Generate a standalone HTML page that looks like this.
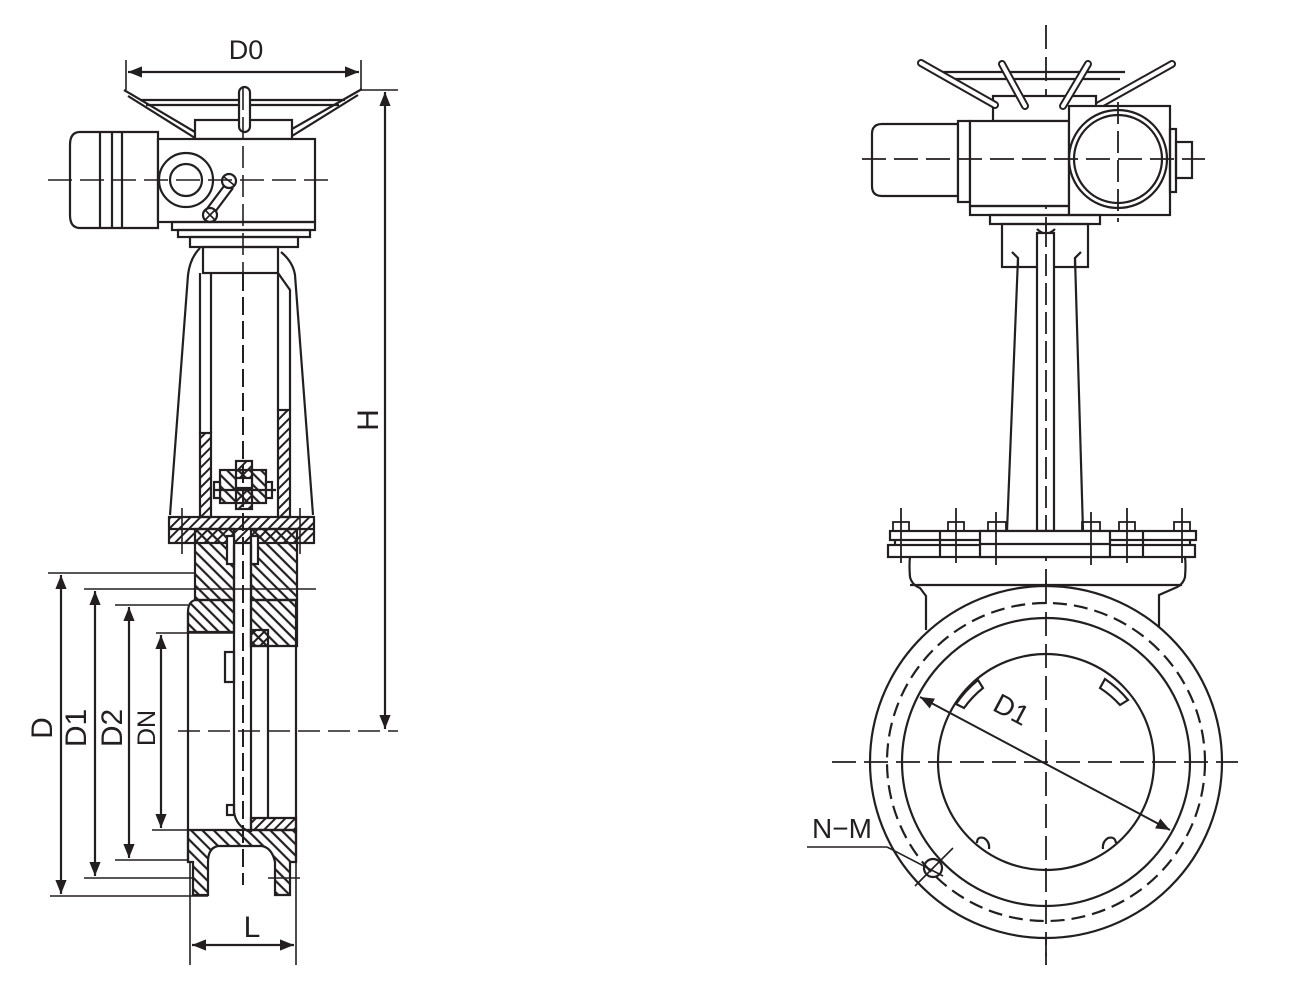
<!DOCTYPE html>
<html><head><meta charset="utf-8"><style>
html,body{margin:0;padding:0;background:#fff;}
svg{display:block;}
text{font-family:"Liberation Sans",Arial,sans-serif;fill:#231f20;}
</style></head><body>
<svg width="1308" height="998" viewBox="0 0 1308 998" xmlns="http://www.w3.org/2000/svg">
<defs>
<pattern id="hb" patternUnits="userSpaceOnUse" width="8" height="8" patternTransform="rotate(-45)">
<line x1="4" y1="0" x2="4" y2="8" stroke="#231f20" stroke-width="2.2"/></pattern>
<pattern id="hf" patternUnits="userSpaceOnUse" width="7" height="7" patternTransform="rotate(45)">
<line x1="3.5" y1="0" x2="3.5" y2="7" stroke="#231f20" stroke-width="2"/></pattern>
<marker id="ar" viewBox="0 0 10 10" refX="10" refY="5" markerWidth="14" markerHeight="14" markerUnits="userSpaceOnUse" orient="auto-start-reverse">
<path d="M0,1 L10,5 L0,9 z" fill="#231f20"/></marker>
</defs>
<g fill="none" stroke="#231f20" stroke-width="2.2">
<!-- ===== LEFT VIEW ===== -->
<line x1="126" y1="60" x2="126" y2="90" stroke-width="1.6"/>
<line x1="361" y1="60" x2="361" y2="90" stroke-width="1.6"/>
<line x1="128" y1="72" x2="359" y2="72" marker-start="url(#ar)" marker-end="url(#ar)"/>
<path d="M124,90 L195,132 M128,96 L195,138"/>
<path d="M362,89 L292,129 M358,95 L292,136"/>
<line x1="140" y1="100" x2="345" y2="100"/>
<line x1="146" y1="105" x2="339" y2="105"/>
<rect x="195" y="120" width="97" height="19" fill="#fff"/>
<rect x="239" y="87" width="11" height="45" rx="5.5" fill="#fff"/>
<path d="M158,132 H80 Q70,132 70,145 V215 Q70,228 80,228 H158 Z" fill="#fff"/>
<line x1="100" y1="132" x2="100" y2="228"/>
<line x1="112" y1="132" x2="112" y2="228"/>
<line x1="122" y1="132" x2="122" y2="228"/>
<rect x="158" y="139" width="157" height="83" fill="#fff"/>
<circle cx="186" cy="180" r="27"/>
<circle cx="186" cy="180" r="16"/>
<circle cx="229" cy="181" r="7"/>
<circle cx="210" cy="215" r="7"/>
<path d="M224,186 L206,210 M233,188 L215,212"/>
<path d="M205,210 L215,220 M215,210 L205,220 M224,177 L234,185" stroke-width="1.6"/>
<rect x="172" y="222" width="143" height="8"/>
<rect x="178" y="230" width="132" height="7"/>
<rect x="190" y="237" width="108" height="10"/>
<rect x="203" y="247" width="75" height="26"/>
<path d="M200,248 Q190,258 188,275 L170,515"/>
<path d="M281,252 Q293,262 295,275 L313,515"/>
<line x1="200" y1="273" x2="200" y2="433"/>
<line x1="211" y1="273" x2="211" y2="433"/>
<path d="M278,273 L290,290 L290,410"/>
<line x1="278" y1="273" x2="278" y2="410"/>
<rect x="200" y="433" width="11" height="84" fill="url(#hf)"/>
<rect x="278" y="410" width="12" height="107" fill="url(#hf)"/>
<rect x="220" y="470" width="46" height="33" fill="url(#hb)"/>
<rect x="214" y="482" width="6" height="16" fill="#fff"/>
<rect x="266" y="482" width="6" height="16" fill="#fff"/>
<rect x="236" y="461" width="16" height="48" fill="url(#hf)"/>
<rect x="236" y="478" width="16" height="10" fill="#fff"/>
<line x1="214" y1="490" x2="276" y2="490"/>
<rect x="169" y="517" width="145" height="26" fill="url(#hf)"/>
<line x1="169" y1="529" x2="314" y2="529"/>
<line x1="182" y1="508" x2="182" y2="554" stroke-width="1.6"/>
<line x1="300" y1="508" x2="300" y2="554" stroke-width="1.6"/>
<path d="M195,529 H234 V600 H195 Z" fill="url(#hb)"/>
<path d="M251,529 H297 V600 H251 Z" fill="url(#hb)"/>
<rect x="227" y="536" width="7" height="28" fill="#fff"/>
<rect x="251" y="536" width="7" height="28" fill="#fff"/>
<path d="M195,600 Q188,602 188,612 V632 H234 V600 Z" fill="url(#hb)"/>
<path d="M251,600 H297 V646 H251 Z" fill="url(#hb)"/>
<rect x="251" y="630" width="17" height="16" fill="url(#hf)"/>
<line x1="188" y1="612" x2="188" y2="862"/>
<line x1="296" y1="600" x2="296" y2="862"/>
<line x1="268" y1="646" x2="268" y2="818"/>
<path d="M234,545 V812 Q236,826 250,832"/>
<line x1="251" y1="545" x2="251" y2="832"/>
<line x1="243" y1="273" x2="243" y2="885" stroke-width="2" stroke-dasharray="18,6"/>
<rect x="225" y="652" width="9" height="30"/>
<rect x="227" y="805" width="7" height="10"/>
<path d="M251,818 H296 V830 H251 Z" fill="url(#hf)"/>
<path d="M188,830 H296 V862 H290 V895 H275 V862 Q272,848 262,846 H218 Q208,848 208,862 V895 H193 V862 H188 Z" fill="url(#hb)"/>
<line x1="178" y1="731" x2="398" y2="731" stroke-width="1.6" stroke-dasharray="22,8"/>
<line x1="48" y1="180" x2="335" y2="180" stroke-width="1.6" stroke-dasharray="24,8"/>
<line x1="243" y1="88" x2="243" y2="273" stroke-width="1.6" stroke-dasharray="22,7"/>
<line x1="361" y1="90" x2="398" y2="90" stroke-width="1.6"/>
<line x1="48" y1="573" x2="195" y2="573" stroke-width="1.6"/>
<line x1="84" y1="589" x2="316" y2="589" stroke-width="1.6"/>
<line x1="115" y1="605" x2="188" y2="605" stroke-width="1.6"/>
<line x1="156" y1="633" x2="234" y2="633" stroke-width="1.6"/>
<line x1="152" y1="830" x2="188" y2="830" stroke-width="1.6"/>
<line x1="115" y1="860" x2="188" y2="860" stroke-width="1.6"/>
<line x1="84" y1="878" x2="193" y2="878" stroke-width="1.6"/>
<line x1="50" y1="896" x2="208" y2="896" stroke-width="1.6"/>
<line x1="190" y1="862" x2="190" y2="965" stroke-width="1.6"/>
<line x1="296" y1="862" x2="296" y2="965" stroke-width="1.6"/>
<line x1="268" y1="878" x2="300" y2="878" stroke-width="1.6"/>
<line x1="385" y1="92" x2="385" y2="729" marker-start="url(#ar)" marker-end="url(#ar)"/>
<line x1="61" y1="575" x2="61" y2="894" marker-start="url(#ar)" marker-end="url(#ar)"/>
<line x1="95" y1="591" x2="95" y2="876" marker-start="url(#ar)" marker-end="url(#ar)"/>
<line x1="129" y1="607" x2="129" y2="858" marker-start="url(#ar)" marker-end="url(#ar)"/>
<line x1="161" y1="635" x2="161" y2="828" marker-start="url(#ar)" marker-end="url(#ar)"/>
<line x1="192" y1="945" x2="294" y2="945" marker-start="url(#ar)" marker-end="url(#ar)"/>

<!-- ===== RIGHT VIEW ===== -->
<line x1="1046" y1="25" x2="1046" y2="965" stroke-width="1.8" stroke-dasharray="24,8"/>
<line x1="943" y1="72" x2="1125" y2="72"/>
<line x1="950" y1="79" x2="1120" y2="79"/>
<rect x="993" y="96" width="103" height="25" fill="#fff"/>
<path d="M921,63 L995,105" stroke-width="8" stroke-linecap="round"/>
<path d="M921,63 L995,105" stroke="#fff" stroke-width="4" stroke-linecap="round"/>
<path d="M1002,64 L1025,106" stroke-width="8" stroke-linecap="round"/>
<path d="M1002,64 L1025,106" stroke="#fff" stroke-width="4" stroke-linecap="round"/>
<path d="M1088,64 L1063,106" stroke-width="8" stroke-linecap="round"/>
<path d="M1088,64 L1063,106" stroke="#fff" stroke-width="4" stroke-linecap="round"/>
<path d="M1172,64 L1099,105" stroke-width="8" stroke-linecap="round"/>
<path d="M1172,64 L1099,105" stroke="#fff" stroke-width="4" stroke-linecap="round"/>
<path d="M958,124 H882 Q872,124 872,134 V186 Q872,196 882,196 H958 Z" fill="#fff"/>
<rect x="958" y="121" width="12" height="81" fill="#fff"/>
<rect x="970" y="121" width="99" height="85" fill="#fff"/>
<rect x="970" y="206" width="99" height="9"/>
<rect x="1069" y="106" width="101" height="109" fill="#fff"/>
<circle cx="1118" cy="159" r="49"/>
<circle cx="1118" cy="159" r="44"/>
<rect x="1170" y="129" width="6" height="63"/>
<rect x="1176" y="142" width="16" height="36"/>
<line x1="862" y1="159" x2="1205" y2="159" stroke-width="1.8" stroke-dasharray="24,8"/>
<line x1="1118" y1="102" x2="1118" y2="222" stroke-width="1.8" stroke-dasharray="22,7"/>
<rect x="990" y="215" width="110" height="9"/>
<rect x="1002" y="224" width="86" height="43"/>
<path d="M1012,252 L1018,258 L1018,267 M1081,252 L1075,258 L1075,267"/>
<path d="M1018,258 L1007,531 M1075,258 L1083,531"/>
<path d="M1037,229 Q1046,238 1055,229"/>
<rect x="1037" y="233" width="17" height="298" fill="#fff"/>
<line x1="1046" y1="225" x2="1046" y2="531" stroke-width="1.8" stroke-dasharray="22,7"/>
<rect x="890" y="531" width="306" height="9" fill="#fff"/>
<rect x="888" y="545" width="307" height="12" fill="#fff"/>
<line x1="895" y1="540" x2="895" y2="545"/><line x1="1190" y1="540" x2="1190" y2="545"/>
<rect x="980" y="531" width="130" height="26" fill="#fff"/>
<line x1="980" y1="544" x2="1110" y2="544"/>
<line x1="940" y1="531" x2="940" y2="557"/>
<line x1="1143" y1="531" x2="1143" y2="557"/>
<g stroke-width="1.8">
<rect x="893" y="522" width="16" height="9"/><line x1="901" y1="508" x2="901" y2="563"/>
<rect x="948" y="522" width="16" height="9"/><line x1="956" y1="508" x2="956" y2="563"/>
<rect x="988" y="522" width="18" height="9"/><line x1="996" y1="512" x2="996" y2="565"/>
<rect x="1082" y="522" width="18" height="9"/><line x1="1091" y1="512" x2="1091" y2="565"/>
<rect x="1119" y="522" width="16" height="9"/><line x1="1127" y1="508" x2="1127" y2="563"/>
<rect x="1174" y="522" width="16" height="9"/><line x1="1182" y1="508" x2="1182" y2="563"/>
</g>
<path d="M910,557 Q909,565 910,577 Q912,585 920,588 L926,596 L926,630"/>
<path d="M1185,557 Q1186,565 1185,577 Q1183,585 1175,588 L1159,595 L1159,630"/>
<line x1="910" y1="585" x2="1182" y2="585"/>
<circle cx="1046" cy="762" r="176" fill="#fff"/>
<circle cx="1046" cy="762" r="159" stroke-dasharray="14,7"/>
<circle cx="1046" cy="762" r="144"/>
<circle cx="1046" cy="762" r="108"/>
<path d="M956,704 L964,708 A100,100 0 0 1 983,688 L978,680 A108,108 0 0 0 956,704 Z" fill="#fff"/>
<path d="M1100,688 A100,100 0 0 1 1120,705 L1128,700 A108,108 0 0 0 1105,679 Z" fill="#fff"/>
<path d="M977,843 Q977,836 984,838 Q990,842 989,849"/>
<path d="M1103,849 Q1102,842 1108,838 Q1115,836 1116,843"/>
<line x1="832" y1="762" x2="1238" y2="762" stroke-width="1.8" stroke-dasharray="24,8"/>
<line x1="1046" y1="580" x2="1046" y2="965" stroke-width="1.8" stroke-dasharray="24,8"/>
<line x1="920" y1="697" x2="1170" y2="830" stroke-width="2" marker-start="url(#ar)" marker-end="url(#ar)"/>
<circle cx="933" cy="868" r="9"/>
<line x1="915" y1="886" x2="953" y2="848" stroke-width="1.6"/>
<line x1="807" y1="847" x2="887" y2="847" stroke-width="1.6"/>
<line x1="887" y1="847" x2="943" y2="876" stroke-width="1.6"/>
</g>
<text x="246" y="59" font-size="27" text-anchor="middle">D0</text>
<text x="252" y="937" font-size="30" text-anchor="middle">L</text>
<text transform="translate(378,420) rotate(-90)" font-size="30" text-anchor="middle">H</text>
<text transform="translate(52,728) rotate(-90)" font-size="30" text-anchor="middle">D</text>
<text transform="translate(86,728) rotate(-90)" font-size="30" text-anchor="middle">D1</text>
<text transform="translate(122,728) rotate(-90)" font-size="30" text-anchor="middle">D2</text>
<text transform="translate(155,728) rotate(-90)" font-size="25" text-anchor="middle">DN</text>
<text transform="translate(1007,718) rotate(28)" font-size="28" text-anchor="middle">D1</text>
<text x="842" y="838" font-size="28" text-anchor="middle">N−M</text>
</svg>
</body></html>
